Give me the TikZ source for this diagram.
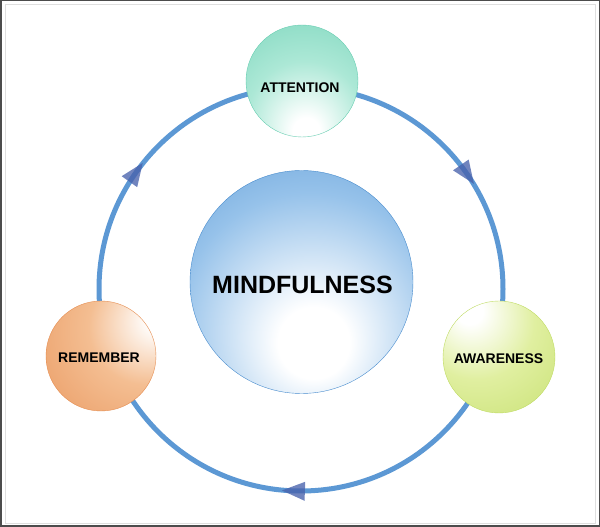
\documentclass[tikz,border=0pt]{standalone}
\usepackage{fontspec}
\setmainfont{Liberation Sans}
\usetikzlibrary{decorations.markings}
\definecolor{mindrim}{RGB}{72,140,206}
\definecolor{mindmid}{RGB}{150,194,234}
\definecolor{attrim}{RGB}{104,206,178}
\definecolor{attmid}{RGB}{172,232,214}
\definecolor{remrim}{RGB}{230,142,82}
\definecolor{remmid}{RGB}{244,190,146}
\definecolor{awarim}{RGB}{192,220,100}
\definecolor{awamid}{RGB}{224,239,160}
\definecolor{ringblue}{RGB}{92,152,212}
\definecolor{arrowblue}{RGB}{72,98,172}
\pgfdeclareradialshading{ballMind}{\pgfpoint{3bp}{-15bp}}{color(0bp)=(white); color(8bp)=(white); color(30bp)=(mindmid); color(56bp)=(mindrim); color(90bp)=(mindrim)}
\pgfdeclareradialshading{ballAtt}{\pgfpoint{2bp}{-24bp}}{color(0bp)=(white); color(6bp)=(white); color(26bp)=(attmid); color(60bp)=(attrim); color(90bp)=(attrim)}
\pgfdeclareradialshading{ballRem}{\pgfpoint{28bp}{18bp}}{color(0bp)=(white); color(5bp)=(white); color(26bp)=(remmid); color(64bp)=(remrim); color(95bp)=(remrim)}
\pgfdeclareradialshading{ballAwa}{\pgfpoint{-14bp}{22bp}}{color(0bp)=(white); color(6bp)=(white); color(26bp)=(awamid); color(60bp)=(awarim); color(95bp)=(awarim)}
\tikzset{
  ball/.style={circle, inner sep=0pt, line width=0.4pt},
  ringline/.style={draw=ringblue, line width=5pt},
  arrowmark/.style={fill=arrowblue, fill opacity=0.78},
  smalltext/.style={font=\bfseries\fontsize{14}{16}\selectfont, inner sep=0pt},
  bigtext/.style={font=\bfseries\fontsize{25}{28}\selectfont, inner sep=0pt}
}
\newcommand{\flowtip}{\fill[arrowmark] (11.5,0) -- (-11.5,9.5) -- (-11.5,-9.5) -- cycle;}
\begin{document}
\begin{tikzpicture}[x=1pt,y=1pt]
\useasboundingbox (0,0) rectangle (600,527);
\fill[white] (0,0) rectangle (600,527);
\draw[gray!25, line width=0.8pt] (5,4) rectangle (595,523);
\draw[black!70, line width=1.5pt] (0.75,0.75) rectangle (599.25,526.25);
\coordinate (ring) at (301,238);
\draw[ringline] (ring) circle[radius=202];
\path[postaction=decorate, decoration={markings,
   mark=at position 0.154 with {\flowtip},
   mark=at position 0.506 with {\flowtip},
   mark=at position 0.848 with {\flowtip}}]
   ([yshift=202pt]ring) arc[start angle=90, end angle=-270, radius=202];
\node[ball, minimum size=223pt, shading=ballMind, draw=mindrim] (mind) at (301.5,245) {};
\node[bigtext] (mindT) at (302.5,242) {MINDFULNESS};
\node[ball, minimum size=112pt, shading=ballAtt, draw=attrim] (att) at (302,446) {};
\node[smalltext] (attT) at (300,439.5) {ATTENTION};
\node[ball, minimum size=110pt, shading=ballRem, draw=remrim] (rem) at (101,171) {};
\node[smalltext] (remT) at (99,169) {REMEMBER};
\node[ball, minimum size=112pt, shading=ballAwa, draw=awarim] (awa) at (499,170) {};
\node[smalltext] (awaT) at (498.5,168) {AWARENESS};
\end{tikzpicture}
\end{document}
